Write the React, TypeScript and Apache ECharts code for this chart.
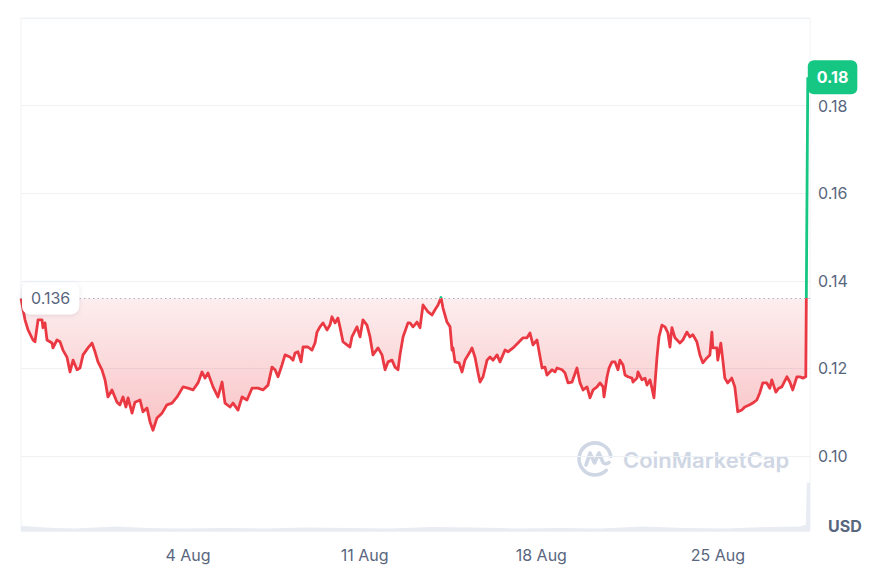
import React, { useEffect, useRef } from "react";
import * as echarts from "echarts";

// ---- data ----
const BASE_TIME = Date.UTC(2024, 6, 28, 0, 0, 0); // 28 Jul 00:00, hour 0
const X_MIN_HOUR = 9.2;
const X_MAX_HOUR = 759.5;
const BASELINE = 0.136;
const Y_MIN = 0.0829;
const Y_MAX = 0.2;

const dateTickHours = [168, 336, 504, 672];
const dateTickLabels = ["4 Aug", "11 Aug", "18 Aug", "25 Aug"];

const hours = [
  9.2, 13.0, 15.9, 20.6, 22.5, 25.4, 29.2, 30.1, 32.0, 33.9,
  38.7, 39.6, 43.4, 46.3, 49.1, 52.9, 55.8, 58.7, 62.5, 65.3,
  68.2, 72.9, 76.7, 79.6, 82.4, 86.2, 89.1, 91.9, 95.7, 100.5,
  103.3, 106.2, 109.0, 111.0, 114.8, 117.6, 122.4, 125.2, 129.0, 131.9,
  134.7, 138.5, 143.3, 148.0, 152.8, 157.6, 163.3, 168.0, 172.8, 177.5,
  181.3, 184.2, 187.0, 191.8, 196.5, 200.4, 203.2, 208.0, 210.8, 215.6,
  219.4, 224.1, 228.9, 234.6, 239.3, 244.1, 247.9, 250.8, 253.6, 257.4,
  260.3, 265.0, 267.9, 269.8, 272.6, 275.5, 277.4, 282.1, 285.9, 288.8,
  290.7, 293.5, 296.4, 300.2, 303.0, 304.9, 307.8, 310.6, 312.5, 315.4,
  319.2, 322.0, 323.9, 328.7, 331.6, 334.4, 338.2, 341.1, 343.9, 348.7,
  352.5, 355.4, 358.2, 362.0, 364.9, 367.7, 369.6, 372.5, 377.2, 379.1,
  382.0, 385.8, 388.6, 391.5, 396.3, 400.0, 402.9, 405.8, 408.6, 410.5,
  414.3, 417.2, 419.1, 420.0, 421.9, 425.7, 428.6, 431.4, 436.2, 438.1,
  440.9, 443.8, 445.7, 448.6, 452.4, 455.2, 458.1, 461.9, 464.7, 469.5,
  472.3, 477.1, 481.8, 486.6, 490.4, 493.2, 496.1, 499.9, 504.7, 507.5,
  509.4, 514.2, 517.0, 518.9, 523.7, 526.5, 529.4, 533.2, 537.9, 540.8,
  543.7, 547.5, 550.3, 553.2, 557.0, 559.8, 562.7, 563.6, 566.5, 568.4,
  571.2, 574.1, 576.9, 578.8, 581.7, 583.6, 586.4, 590.2, 591.2, 595.0,
  595.9, 599.7, 602.6, 604.5, 607.3, 609.2, 611.1, 614.0, 615.9, 618.7,
  621.6, 624.4, 626.3, 628.2, 631.1, 635.8, 638.6, 642.4, 645.3, 648.1,
  651.9, 654.8, 657.6, 661.4, 664.3, 666.2, 667.1, 670.9, 671.8, 674.7,
  676.6, 678.5, 681.3, 685.1, 688.0, 690.8, 694.6, 697.5, 702.2, 705.1,
  708.9, 711.7, 714.6, 718.4, 721.3, 723.2, 727.0, 729.8, 732.7, 737.5,
  740.3, 743.1, 747.0, 749.8, 752.7, 755.5, 757.4,
];

const prices = [
  0.1360, 0.1311, 0.1288, 0.1265, 0.1261, 0.1311, 0.1311, 0.1293, 0.1304, 0.1265,
  0.1258, 0.1247, 0.1265, 0.1261, 0.1242, 0.1226, 0.1192, 0.1219, 0.1197, 0.1201,
  0.1231, 0.1247, 0.1258, 0.1238, 0.1215, 0.1197, 0.1174, 0.1135, 0.1151, 0.1123,
  0.1117, 0.1135, 0.1112, 0.1133, 0.1098, 0.1123, 0.1128, 0.1101, 0.1110, 0.1078,
  0.1059, 0.1087, 0.1098, 0.1117, 0.1121, 0.1135, 0.1158, 0.1155, 0.1151, 0.1167,
  0.1192, 0.1178, 0.1190, 0.1158, 0.1135, 0.1169, 0.1121, 0.1112, 0.1121, 0.1105,
  0.1135, 0.1128, 0.1155, 0.1155, 0.1151, 0.1162, 0.1203, 0.1197, 0.1181, 0.1208,
  0.1231, 0.1226, 0.1219, 0.1235, 0.1238, 0.1215, 0.1249, 0.1249, 0.1242, 0.1258,
  0.1283, 0.1295, 0.1304, 0.1288, 0.1299, 0.1318, 0.1304, 0.1315, 0.1295, 0.1261,
  0.1254, 0.1249, 0.1272, 0.1295, 0.1272, 0.1311, 0.1299, 0.1272, 0.1231, 0.1247,
  0.1231, 0.1197, 0.1215, 0.1219, 0.1203, 0.1197, 0.1231, 0.1272, 0.1304, 0.1304,
  0.1295, 0.1306, 0.1293, 0.1345, 0.1329, 0.1322, 0.1334, 0.1345, 0.1362, 0.1338,
  0.1306, 0.1295, 0.1242, 0.1247, 0.1215, 0.1213, 0.1192, 0.1219, 0.1238, 0.1247,
  0.1226, 0.1190, 0.1169, 0.1181, 0.1219, 0.1226, 0.1219, 0.1231, 0.1215, 0.1242,
  0.1238, 0.1247, 0.1258, 0.1270, 0.1270, 0.1281, 0.1254, 0.1265, 0.1201, 0.1203,
  0.1185, 0.1197, 0.1192, 0.1201, 0.1197, 0.1190, 0.1167, 0.1169, 0.1201, 0.1167,
  0.1151, 0.1158, 0.1133, 0.1151, 0.1158, 0.1167, 0.1158, 0.1135, 0.1181, 0.1201,
  0.1215, 0.1215, 0.1197, 0.1219, 0.1208, 0.1185, 0.1181, 0.1178, 0.1169, 0.1178,
  0.1192, 0.1174, 0.1178, 0.1162, 0.1174, 0.1155, 0.1133, 0.1226, 0.1272, 0.1299,
  0.1295, 0.1281, 0.1249, 0.1293, 0.1270, 0.1258, 0.1265, 0.1283, 0.1272, 0.1277,
  0.1261, 0.1231, 0.1213, 0.1224, 0.1231, 0.1283, 0.1247, 0.1247, 0.1219, 0.1258,
  0.1219, 0.1178, 0.1167, 0.1178, 0.1158, 0.1101, 0.1105, 0.1112, 0.1117, 0.1121,
  0.1128, 0.1144, 0.1167, 0.1167, 0.1155, 0.1174, 0.1146, 0.1155, 0.1158, 0.1181,
  0.1169, 0.1151, 0.1181, 0.1181, 0.1178, 0.1181, 0.1865,
];

// faint volume strip at the bottom (arbitrary units on a hidden axis, max 100)
const volHours = [9.2, 40, 60, 80, 100, 130, 160, 200, 240, 280, 320, 360, 400, 440, 480, 520, 560, 600, 640, 680, 720, 750, 755.5, 756.5, 759.5];
const volumes = [1.0, 0.6, 0.5, 0.7, 0.9, 0.6, 0.5, 0.6, 0.5, 0.7, 0.6, 0.5, 0.8, 0.7, 0.5, 0.6, 0.5, 0.9, 0.6, 0.5, 0.8, 0.9, 1.2, 9.4, 9.4];

// ---- styles ----
const RED = "#ea3943";
const GREEN = "#16c784";
const GRID_LINE = "#eff2f5";
const LABEL = "#58667e";
const WATERMARK = "#cfd6e4";
const FONT = "Inter, sans-serif";

const LOGO_D =
  "M33.8 15.2A16 16 0 1 0 29.3 29.3M9 24L13 12L17.5 22L22 12L26 21.5Q28 24 32 21.5";
echarts.graphic.registerShape("cmcLogo", echarts.graphic.extendPath(LOGO_D, {}));

function dayLabel(h: number): string {
  const idx = dateTickHours.indexOf(Math.round(h));
  if (idx >= 0) return dateTickLabels[idx];
  const d = new Date(BASE_TIME + h * 3600e3);
  return d.getUTCDate() + " Aug";
}

export default function App() {
  const ref = useRef<HTMLDivElement>(null);

  useEffect(() => {
    if (!ref.current) return;
    const chart = echarts.init(ref.current, undefined, { renderer: "svg" });
    const priceData = hours.map((h, i) => [h, prices[i]]);
    const volData = volHours.map((h, i) => [h, volumes[i]]);

    chart.setOption({
      animation: false,
      backgroundColor: "#ffffff",
      textStyle: { fontFamily: FONT },
      grid: {
        left: 21,
        right: 72,
        top: 18,
        bottom: 37,
        show: true,
        borderColor: GRID_LINE,
        borderWidth: 1,
        containLabel: false,
        outerBoundsMode: "none",
      },
      xAxis: {
        type: "value",
        min: X_MIN_HOUR,
        max: X_MAX_HOUR,
        axisLine: { show: false },
        axisTick: { show: false },
        splitLine: { show: false },
        axisLabel: {
          customValues: dateTickHours,
          formatter: (v: number) => dayLabel(v),
          color: LABEL,
          fontSize: 16,
          fontFamily: FONT,
          margin: 16,
        },
      },
      yAxis: [
        {
          type: "value",
          position: "right",
          min: Y_MIN,
          max: Y_MAX,
          splitNumber: 5,
          axisLine: { show: false },
          axisTick: { show: false },
          splitLine: { lineStyle: { color: GRID_LINE, width: 1 } },
          axisLabel: {
            showMinLabel: false,
            showMaxLabel: false,
            formatter: (v: number) => v.toFixed(2),
            color: LABEL,
            fontSize: 16,
            fontFamily: FONT,
            margin: 8,
          },
        },
        {
          type: "value",
          min: 0,
          max: 100,
          show: false,
          splitLine: { show: false },
        },
      ],
      visualMap: {
        show: false,
        type: "piecewise",
        seriesIndex: 1,
        dimension: 1,
        pieces: [
          { min: 0, max: BASELINE, color: RED },
          { gt: BASELINE, max: 1, color: GREEN },
        ],
        outOfRange: { color: RED },
      },
      series: [
        {
          name: "Volume",
          type: "line",
          yAxisIndex: 1,
          data: volData,
          symbol: "none",
          silent: true,
          lineStyle: { width: 0 },
          itemStyle: { color: "#e9edf3" },
          areaStyle: { color: "#e9edf3", opacity: 1 },
          z: 1,
        },
        {
          name: "Price",
          type: "line",
          data: priceData,
          symbol: "none",
          showSymbol: false,
          lineStyle: { width: 2.8, join: "round" },
          areaStyle: {
            origin: BASELINE,
            opacity: 1,
            color: new echarts.graphic.LinearGradient(0, 0, 0, 1, [
              { offset: 0, color: "rgba(234,57,67,0.08)" },
              { offset: 0.63, color: "rgba(234,57,67,0.09)" },
              { offset: 1, color: "rgba(234,57,67,0.30)" },
            ]),
          },
          endLabel: {
            show: true,
            distance: 0,
            formatter: (p: any) => (Math.floor(p.value[1] * 100) / 100).toFixed(2),
            backgroundColor: GREEN,
            color: "#ffffff",
            fontWeight: "bold",
            fontSize: 16,
            fontFamily: FONT,
            padding: [9, 9, 9, 9],
            borderRadius: 6,
          },
          markLine: {
            silent: true,
            symbol: "none",
            precision: 4,
            lineStyle: { type: [1.5, 3], color: "#a6b0c3", width: 1 },
            label: {
              position: "insideStart",
              distance: 1,
              formatter: () => BASELINE.toString(),
              color: LABEL,
              fontSize: 16,
              fontFamily: FONT,
              backgroundColor: "#ffffff",
              borderRadius: 8,
              padding: [8, 9, 8, 9],
              shadowBlur: 4,
              shadowColor: "rgba(88,102,126,0.18)",
              shadowOffsetY: 1,
            },
            data: [{ yAxis: BASELINE }],
          },
          z: 3,
        },
      ],
      graphic: [
        {
          type: "cmcLogo",
          x: 577,
          y: 441,
          silent: true,
          z: 0,
          style: {
            fill: "none",
            stroke: WATERMARK,
            lineWidth: 3.6,
            lineCap: "round",
            lineJoin: "round",
          },
        },
        {
          type: "text",
          x: 623,
          y: 460,
          silent: true,
          z: 0,
          style: {
            text: "CoinMarketCap",
            fill: WATERMARK,
            font: "600 22px Inter, sans-serif",
            verticalAlign: "middle",
            textAlign: "left",
          },
        },
        {
          type: "text",
          x: 828,
          y: 526,
          silent: true,
          style: {
            text: "USD",
            fill: LABEL,
            font: "bold 16px Inter, sans-serif",
            verticalAlign: "middle",
            textAlign: "left",
          },
        },
      ],
    });

    return () => chart.dispose();
  }, []);

  return (
    <div
      ref={ref}
      style={{ position: "absolute", left: 0, top: 0, width: 882, height: 568, background: "#fff" }}
    />
  );
}
